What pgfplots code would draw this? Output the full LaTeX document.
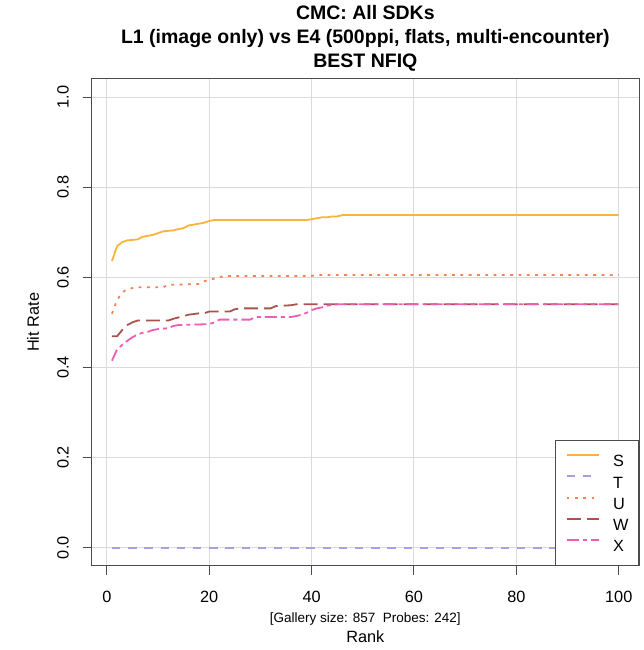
\documentclass[border=0pt]{standalone}
\usepackage{pgfplots}
\pgfplotsset{compat=1.18}
\usepackage{fontspec}
\setmainfont{Liberation Sans}
\definecolor{cS}{RGB}{247,180,60}
\definecolor{cT}{RGB}{165,160,228}
\definecolor{cU}{RGB}{244,130,82}
\definecolor{cW}{RGB}{168,84,78}
\definecolor{cX}{RGB}{238,92,180}
\begin{document}
\begin{tikzpicture}[x=1pt,y=1pt]
\begin{axis}[at={(0pt,0pt)}, anchor=south west, scale only axis,
  width=547.3pt, height=486.7pt,
  xmin=-2.96, xmax=103.96, ymin=-0.04, ymax=1.04,
  xtick={0,20,40,60,80,100}, ytick={0,0.2,0.4,0.6,0.8,1},
  xtick pos=lower, ytick pos=left, tick align=outside, major tick length=9pt,
  tick style={black!70, line width=1pt},
  axis line style={black!70, line width=1pt},
  grid=major, grid style={black!14, line width=1pt},
  /pgf/number format/assume math mode=true,
  ticklabel style={font=\fontsize{16.3}{19}\selectfont},
  yticklabel style={rotate=90, anchor=base, yshift=14pt, /pgf/number format/fixed, /pgf/number format/fixed zerofill, /pgf/number format/precision=1},
  xticklabel style={anchor=base, yshift=-28pt},
  legend style={at={(1,0)}, anchor=south east, draw=black!70, line width=0.8pt, fill=white,
    inner xsep=10.2pt, inner ysep=13.3pt, row sep=8.7pt, column sep=13.5pt,
    font=\fontsize{16.3}{19}\selectfont,
    nodes={inner sep=0pt, text height=11.7pt, text depth=0pt}},
  legend cell align=left,
  legend image code/.code={\draw[#1] (0pt,5.85pt) -- (32pt,5.85pt);},
  every axis plot/.append style={line width=1.8pt, mark=none},
]
\addplot[cS] coordinates {(1,0.636) (2,0.669) (3,0.678) (4,0.682) (6,0.684) (7,0.690) (8,0.692) (9,0.694) (10,0.698) (11,0.702) (13,0.704) (14,0.707) (15,0.709) (16,0.715) (17,0.717) (18,0.719) (19,0.721) (20,0.725) (21,0.727) (39,0.727) (40,0.729) (42,0.733) (43,0.733) (44,0.735) (45,0.735) (46,0.738) (100,0.738)};
\addlegendentry{S}
\addplot[cT, dash pattern=on 8.5pt off 7.7pt] coordinates {(1,0) (100,0)};
\addlegendentry{T}
\addplot[cU, dash pattern=on 2.8pt off 5.5pt] coordinates {(1,0.519) (2,0.550) (3,0.566) (4,0.574) (5,0.576) (6,0.578) (11,0.578) (12,0.583) (18,0.585) (19,0.591) (20,0.595) (21,0.597) (23,0.603) (40,0.603) (41,0.605) (100,0.605)};
\addlegendentry{U}
\addplot[cW, dash pattern=on 14pt off 6pt] coordinates {(1,0.469) (2,0.469) (3,0.483) (4,0.494) (5,0.500) (6,0.504) (12,0.504) (13,0.508) (16,0.517) (18,0.520) (19,0.520) (20,0.524) (24,0.524) (25,0.529) (26,0.531) (32,0.531) (33,0.536) (36,0.538) (37,0.540) (100,0.540)};
\addlegendentry{W}
\addplot[cX, dash pattern=on 12pt off 4pt on 4pt off 4pt] coordinates {(1,0.415) (2,0.440) (3,0.450) (4,0.459) (5,0.467) (6,0.473) (7,0.477) (8,0.479) (9,0.483) (10,0.485) (12,0.487) (13,0.492) (14,0.494) (20,0.496) (21,0.500) (22,0.506) (28,0.506) (29,0.512) (36,0.512) (37,0.514) (38,0.517) (39,0.521) (40,0.527) (41,0.531) (42,0.533) (43,0.537) (45,0.540) (100,0.540)};
\addlegendentry{X}
\end{axis}
\node[anchor=base, font=\fontsize{19.5}{23}\selectfont\bfseries] at (273.65,545.7) {CMC: All SDKs};
\node[anchor=base, font=\fontsize{19.5}{23}\selectfont\bfseries] at (273.65,521.7) {L1 (image only) vs E4 (500ppi, flats, multi-encounter)};
\node[anchor=base, font=\fontsize{19.5}{23}\selectfont\bfseries] at (273.65,497.7) {BEST NFIQ};
\node[anchor=base, font=\fontsize{13.5}{16}\selectfont] at (273.65,-56.3) {[Gallery size: 857\ \ Probes: 242]};
\node[anchor=base, font=\fontsize{16.3}{19}\selectfont] at (273.65,-76.3) {Rank};
\node[anchor=base, rotate=90, font=\fontsize{16.3}{19}\selectfont] at (-52.8,243.35) {Hit Rate};
\pgfresetboundingbox
\path[use as bounding box] (-91.7pt,-84.3pt) rectangle (552.3pt,565.7pt);
\end{tikzpicture}
\end{document}
